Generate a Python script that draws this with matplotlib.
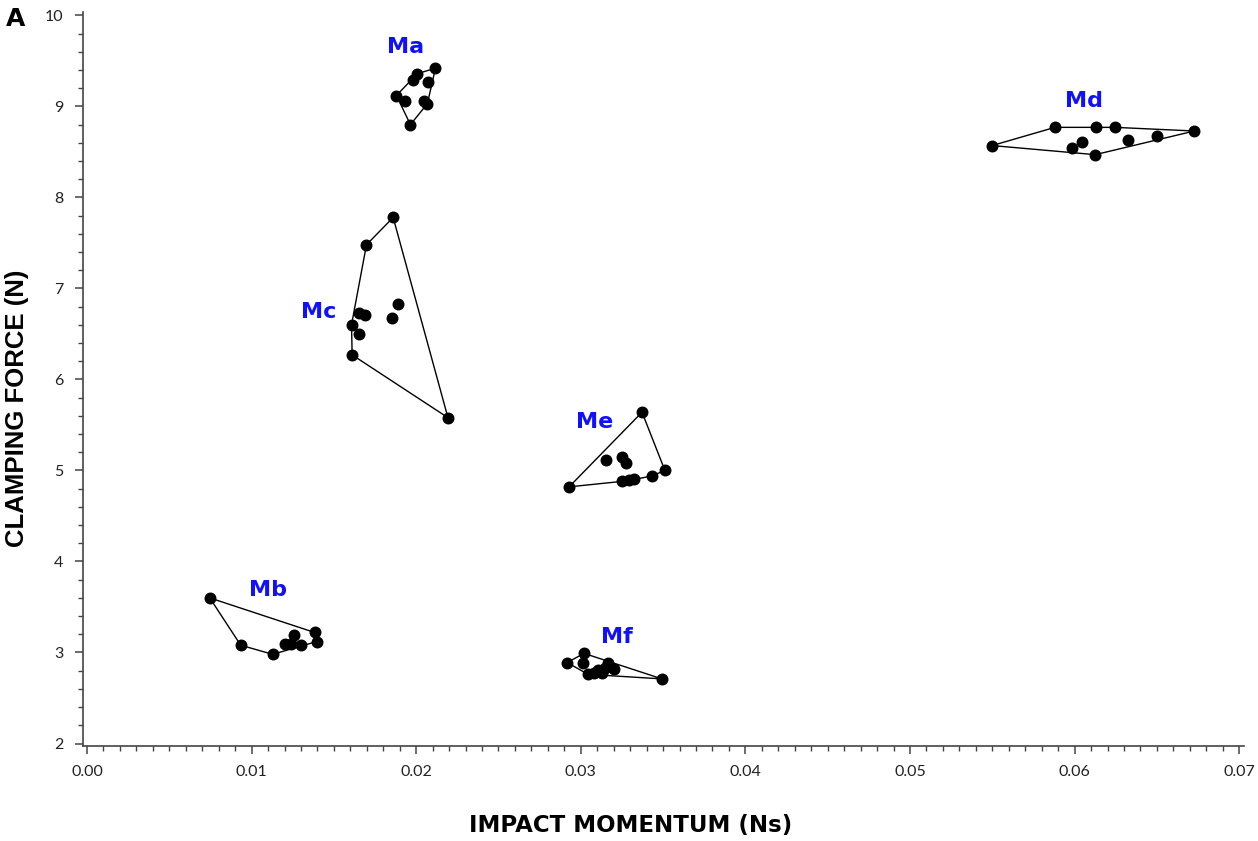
import matplotlib.pyplot as plt
from matplotlib.ticker import MultipleLocator
import numpy as np

# cluster data: impact momentum (Ns), clamping force (N)
ma_x = [0.02117, 0.02007, 0.01983, 0.02074, 0.01880, 0.01935, 0.02050, 0.02068, 0.01965]
ma_y = [9.42, 9.36, 9.29, 9.27, 9.12, 9.06, 9.06, 9.03, 8.80]

mb_x = [0.00746, 0.00934, 0.01128, 0.01383, 0.01395, 0.01255, 0.01201, 0.01237, 0.01298]
mb_y = [3.60, 3.08, 2.98, 3.22, 3.12, 3.19, 3.09, 3.09, 3.08]

mc_x = [0.01860, 0.01698, 0.01888, 0.01651, 0.01692, 0.01607, 0.01854, 0.01651, 0.01611, 0.02193]
mc_y = [7.78, 7.48, 6.83, 6.73, 6.71, 6.60, 6.67, 6.50, 6.27, 5.58]

md_x = [0.05499, 0.05880, 0.06129, 0.06246, 0.06727, 0.06044, 0.05987, 0.06125, 0.06323, 0.06501]
md_y = [8.57, 8.77, 8.77, 8.77, 8.73, 8.61, 8.54, 8.47, 8.63, 8.67]

me_x = [0.03372, 0.02929, 0.03153, 0.03250, 0.03275, 0.03250, 0.03293, 0.03323, 0.03432, 0.03511]
me_y = [5.64, 4.82, 5.11, 5.15, 5.08, 4.88, 4.89, 4.91, 4.94, 5.00]

mf_x = [0.02917, 0.03020, 0.03014, 0.03044, 0.03081, 0.03105, 0.03147, 0.03166, 0.03202, 0.03493, 0.03129]
mf_y = [2.89, 2.99, 2.88, 2.76, 2.77, 2.81, 2.83, 2.88, 2.82, 2.71, 2.77]

names = ["Ma", "Mb", "Mc", "Md", "Me", "Mf"]
label_x = [0.01935, 0.01098, 0.01407, 0.06058, 0.03081, 0.03220]
label_y = [9.65, 3.69, 6.74, 9.06, 5.53, 3.17]


def convex_hull(xs, ys):
    pts = sorted(set(zip(xs, ys)))

    def cross(o, a, b):
        return (a[0] - o[0]) * (b[1] - o[1]) - (a[1] - o[1]) * (b[0] - o[0])

    lower = []
    for p in pts:
        while len(lower) >= 2 and cross(lower[-2], lower[-1], p) <= 0:
            lower.pop()
        lower.append(p)
    upper = []
    for p in reversed(pts):
        while len(upper) >= 2 and cross(upper[-2], upper[-1], p) <= 0:
            upper.pop()
        upper.append(p)
    hull = lower[:-1] + upper[:-1]
    hull.append(hull[0])
    return np.array(hull)


clusters = [(ma_x, ma_y), (mb_x, mb_y), (mc_x, mc_y),
            (md_x, md_y), (me_x, me_y), (mf_x, mf_y)]

fig = plt.figure(figsize=(12.58, 8.41), dpi=100)
ax = fig.add_axes([0.066, 0.113, 0.923, 0.873])

for (xs, ys), name, lx, ly in zip(clusters, names, label_x, label_y):
    hull = convex_hull(xs, ys)
    ax.plot(hull[:, 0], hull[:, 1], color="black", lw=1.0, zorder=2)
    ax.plot(xs, ys, "o", color="black", ms=7.6, zorder=3)
    ax.text(lx, ly, name, color="#1010ff", fontsize=16, fontweight="bold",
            ha="center", va="center")

ax.set_xlim(-0.00024, 0.0703)
ax.set_ylim(1.973, 10.04)
ax.xaxis.set_major_locator(MultipleLocator(0.01))
ax.xaxis.set_minor_locator(MultipleLocator(0.001))
ax.yaxis.set_major_locator(MultipleLocator(1))
ax.yaxis.set_minor_locator(MultipleLocator(0.2))
ax.set_xticklabels([f"{v:.2f}" for v in ax.get_xticks()])
for lab in ax.get_xticklabels() + ax.get_yticklabels():
    lab.set_family("Lato")
    lab.set_color("#222222")

for side in ["top", "right"]:
    ax.spines[side].set_visible(False)
for side in ["left", "bottom"]:
    ax.spines[side].set_color("#444444")
    ax.spines[side].set_linewidth(1.2)

ax.tick_params(which="major", length=6, width=1.1, color="#444444",
               labelsize=11.5, pad=8)
ax.tick_params(which="minor", length=3.5, width=1.0, color="#444444")

# axis titles placed in figure coords
fig.text(0.501, 0.018, "IMPACT MOMENTUM (Ns)", fontsize=16.5, fontweight="bold",
         ha="center", va="center")
fig.text(0.0135, 0.515, "CLAMPING FORCE (N)", fontsize=18.5, fontweight="bold",
         family="Liberation Sans", rotation=90, ha="center", va="center")

fig.text(0.012, 0.978, "A", fontsize=18, fontweight="bold", va="center", ha="center")

plt.savefig("out.png", dpi=100)
